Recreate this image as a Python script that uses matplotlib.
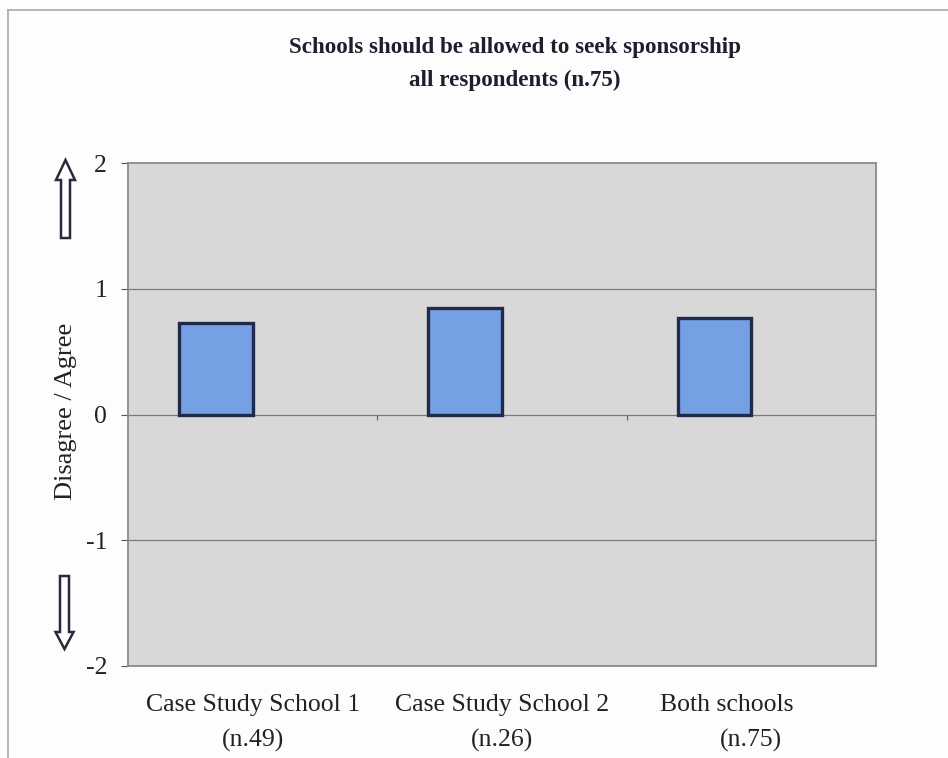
import matplotlib
matplotlib.use("Agg")
import matplotlib.pyplot as plt
from matplotlib.patches import Polygon
from matplotlib.lines import Line2D
from matplotlib.transforms import blended_transform_factory, offset_copy

# ---- data ----
categories = ["Case Study School 1", "Case Study School 2", "Both schools"]
sample_sizes = ["(n.49)", "(n.26)", "(n.75)"]
values = [0.73, 0.85, 0.77]
yticks = [-2, -1, 0, 1, 2]
title_lines = ["Schools should be allowed to seek sponsorship", "all respondents (n.75)"]
ylabel = "Disagree / Agree"

plt.rcParams['font.family'] = ['Liberation Serif', 'DejaVu Serif']

W, H = 948, 758
fig = plt.figure(figsize=(W / 100, H / 100), dpi=100)
fig.patch.set_facecolor("#fdfdfd")

def fx(px):
    return px / W

def fy(py):
    return 1 - py / H

ax = fig.add_axes([fx(128), fy(666), fx(876) - fx(128), fy(163) - fy(666)])
ax.set_facecolor("#d8d8d8")

x = list(range(len(categories)))
bw = 0.295
ax.bar([i - bw / 2 for i in x], values, width=bw, color="#76a0e4",
       edgecolor="#1f2a4d", linewidth=2.4, zorder=3)

ax.set_xlim(-0.5, len(categories) - 0.5)
ax.set_ylim(yticks[0], yticks[-1])
ax.set_yticks(yticks)
ax.set_yticklabels([str(v) for v in yticks])
ax.tick_params(axis='y', direction='out', length=5, width=0.8, color="#555555",
               pad=10, labelsize=18.5, labelcolor="#222222")
ax.set_xticks([])

for v in yticks[1:-1]:
    ax.axhline(v, color="#7a7a7a", linewidth=0.9, zorder=1)

# boundary ticks on zero line
ax.vlines([i + 0.5 for i in x[:-1]], -0.04, 0, color="#666666", linewidth=0.9, zorder=2)

for s in ax.spines.values():
    s.set_color("#8a8a8a")
    s.set_linewidth(1.3)

# category labels
trans = blended_transform_factory(ax.transData, ax.transAxes)
line1_shift = [0, 0, -25]
for i, (c, n) in enumerate(zip(categories, sample_sizes)):
    ax.text(i, 0, c, transform=offset_copy(trans, fig=fig, x=line1_shift[i], y=-39, units='dots'),
            ha='center', va='center', fontsize=18.5, color="#222222")
    ax.text(i, 0, n, transform=offset_copy(trans, fig=fig, x=0, y=-74, units='dots'),
            ha='center', va='center', fontsize=18.5, color="#222222")

# y label
fig.text(fx(66), fy(411), ylabel, rotation=90, ha='center', va='center',
         fontsize=19, color="#222222")

# title
fig.text(fx(515), fy(48), title_lines[0], ha='center', va='center',
         fontsize=16.6, fontweight='bold', color="#1e1e2e")
fig.text(fx(515), fy(80), title_lines[1], ha='center', va='center',
         fontsize=16.6, fontweight='bold', color="#1e1e2e")

# hollow arrows
up = [(65.5, 160), (75, 180), (70, 180), (70, 238), (61, 238), (61, 180), (56, 180)]
down = [(60, 576), (69, 576), (69, 632), (73.5, 632), (64.5, 649), (55.5, 632), (60, 632)]
for pts in (up, down):
    fig.add_artist(Polygon([(fx(a), fy(b)) for a, b in pts], closed=True,
                           transform=fig.transFigure, facecolor="white",
                           edgecolor="#2a2a3a", linewidth=1.8))

# outer frame
fig.add_artist(Line2D([fx(7.5), fx(7.5)], [fy(10), 0], transform=fig.transFigure,
                      color="#a8a8a8", linewidth=1.2))
fig.add_artist(Line2D([fx(7.5), 1], [fy(10), fy(10)], transform=fig.transFigure,
                      color="#a8a8a8", linewidth=1.2))

fig.savefig("out.png", dpi=100, facecolor=fig.get_facecolor())
